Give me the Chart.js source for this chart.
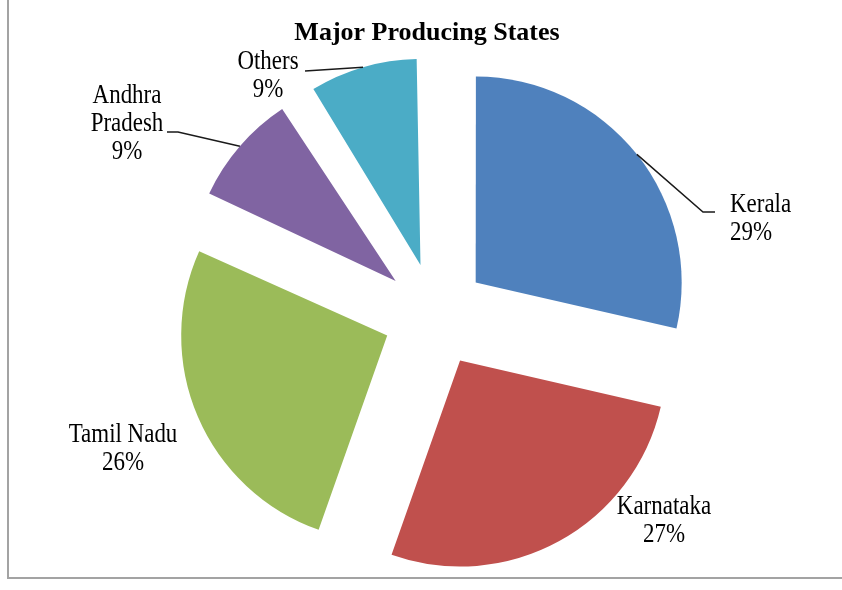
<!DOCTYPE html>
<html>
<head>
<meta charset="utf-8">
<script src="https://cdn.jsdelivr.net/npm/chart.js@4.4.0/dist/chart.umd.min.js"></script>
<style>
  html, body { margin: 0; padding: 0; background: #ffffff; }
  #wrap { width: 842px; height: 590px; position: relative; }
</style>
</head>
<body>
<div id="wrap"><canvas id="c" width="842" height="590"></canvas></div>
<script>
// ---- data ----
const chartTitle = 'Major Producing States';
const categories = ['Kerala', 'Karnataka', 'Tamil Nadu', 'Andhra Pradesh', 'Others'];
const shares = [28.6, 26.8, 26.3, 9.3, 9.0];   // percent share (labels show rounded values)
const sliceColors = ['#4F81BD', '#C0504D', '#9BBB59', '#8064A2', '#4BACC6'];

// ---- layout / style ----
const EXPLODE = 52;        // apex displacement of each slice (px)
const PIE_RADIUS = 206;    // slice radius (px)
const FONT_FAMILY = '"Liberation Serif", "Times New Roman", serif';
const labelLayout = [
  { x: 730, y: 212, align: 'left',   wrap: false, leader: [[703, 212], [715, 212]] },
  { x: 664, y: 514, align: 'center', wrap: false, leader: null },
  { x: 123, y: 442, align: 'center', wrap: false, leader: null },
  { x: 127, y: 103, align: 'center', wrap: true,  leader: [[178, 132], [167, 132]] },
  { x: 268, y: 69,  align: 'center', wrap: false, leader: [[305, 71]] }
];
const LINE_GAP = 28;

const decorPlugin = {
  id: 'decor',
  beforeDatasetsDraw(chart) {
    // keep every slice at the same radius despite the explode offset correction
    const meta = chart.getDatasetMeta(0);
    const off = (chart.data.datasets[0].offset || 0) / 4;
    meta.data.forEach(arc => {
      const fix = 1 - Math.sin(Math.min(Math.PI, arc.circumference || 0));
      arc.outerRadius = PIE_RADIUS - off * fix;
    });
  },
  beforeDraw(chart) {
    const ctx = chart.ctx;
    ctx.save();
    ctx.fillStyle = '#ffffff';
    ctx.fillRect(0, 0, chart.width, chart.height);
    ctx.strokeStyle = '#a3a3a3';
    ctx.lineWidth = 2;
    ctx.strokeRect(8, -6, 860, 584);
    ctx.restore();
  },
  afterDraw(chart) {
    const ctx = chart.ctx;
    ctx.save();
    // title
    ctx.fillStyle = '#000000';
    ctx.font = 'bold 26px ' + FONT_FAMILY;
    ctx.textAlign = 'center';
    ctx.textBaseline = 'alphabetic';
    ctx.fillText(chartTitle, 427, 40);

    const meta = chart.getDatasetMeta(0);
    meta.data.forEach((arc, i) => {
      const L = labelLayout[i];
      const p = arc.getProps(['x', 'y', 'startAngle', 'endAngle'], true);
      const mid = (p.startAngle + p.endAngle) / 2;
      const rr = PIE_RADIUS + EXPLODE;
      const ax = p.x + Math.cos(mid) * rr;
      const ay = p.y + Math.sin(mid) * rr;
      if (L.leader) {
        ctx.beginPath();
        ctx.strokeStyle = '#1a1a1a';
        ctx.lineWidth = 1.5;
        ctx.moveTo(ax, ay);
        L.leader.forEach(pt => ctx.lineTo(pt[0], pt[1]));
        ctx.stroke();
      }
      const name = categories[i];
      const lines = (L.wrap ? name.split(' ') : [name]).concat([Math.round(shares[i]) + '%']);
      ctx.font = '27px ' + FONT_FAMILY;
      ctx.fillStyle = '#000000';
      ctx.textAlign = L.align;
      ctx.textBaseline = 'alphabetic';
      lines.forEach((t, k) => {
        ctx.save();
        ctx.translate(L.x, L.y + k * LINE_GAP);
        ctx.scale(0.85, 1);
        ctx.fillText(t, 0, 0);
        ctx.restore();
      });
    });
    ctx.restore();
  }
};

new Chart(document.getElementById('c'), {
  type: 'pie',
  data: {
    labels: categories,
    datasets: [{
      data: shares,
      backgroundColor: sliceColors,
      borderWidth: 0,
      offset: EXPLODE * 4,
      radius: PIE_RADIUS,
      clip: false
    }]
  },
  options: {
    responsive: false,
    animation: false,
    events: [],
    layout: { padding: { left: 48, right: 20, top: 60, bottom: 20 } },
    plugins: {
      legend: { display: false },
      title: { display: false },
      tooltip: { enabled: false }
    }
  },
  plugins: [decorPlugin]
});
</script>
</body>
</html>
